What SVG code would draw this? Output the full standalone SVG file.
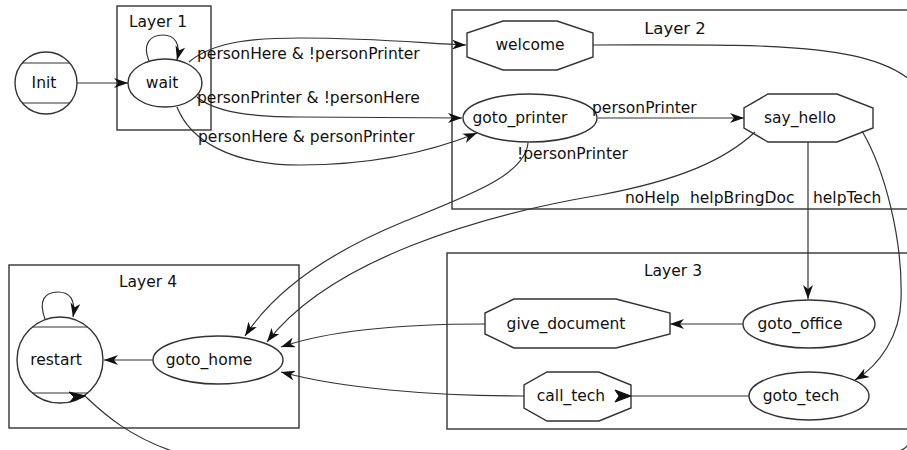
<svg xmlns="http://www.w3.org/2000/svg" width="907" height="450" viewBox="0 0 907 450">
<defs>
<style>
.cl{fill:none;stroke:#333;stroke-width:1.4}
.nd{fill:#fff;stroke:#333;stroke-width:1.4}
.ln{fill:none;stroke:#333;stroke-width:1.2}
.ed{fill:none;stroke:#333;stroke-width:1.2;marker-end:url(#ah)}
.ah{fill:#111;stroke:#111;stroke-width:1}
text{font-family:"DejaVu Sans","Liberation Sans",sans-serif;font-size:15.5px;fill:#111}
.c{text-anchor:middle}
.lay{font-size:15.5px}
</style>
<marker id="ah" viewBox="0 0 14 10" refX="14" refY="5" markerWidth="14" markerHeight="10" markerUnits="userSpaceOnUse" orient="auto">
<path d="M0,0 L14,5 L0,10 L4,5 Z" fill="#111"/>
</marker>
</defs>

<g id="clusters">
<g id="layer1"><rect class="cl" x="117" y="6" width="94" height="124"/><text class="c lay" x="158" y="27">Layer 1</text></g>
<g id="layer2"><rect class="cl" x="452" y="10" width="480" height="199"/><text class="c" x="675" y="34" style="font-size:16.5px">Layer 2</text></g>
<g id="layer3"><rect class="cl" x="447" y="253" width="480" height="176"/><text class="c lay" x="673" y="276">Layer 3</text></g>
<g id="layer4"><rect class="cl" x="9" y="265" width="290" height="163"/><text class="c lay" x="148" y="287">Layer 4</text></g>
</g>

<g id="Init"><circle class="nd" cx="46" cy="83" r="31"/><path class="ln" d="M22,63 L70,63 M22,103 L70,103"/><text class="c" x="44" y="88">Init</text></g>
<g id="wait"><ellipse class="nd" cx="165" cy="83" rx="37" ry="24"/><text class="c" x="162" y="88">wait</text></g>
<g id="welcome"><polygon class="nd" points="503,21 557,21 593,33 593,57 557,70 503,70 467,57 467,33"/><text class="c" x="530" y="50">welcome</text></g>
<g id="goto_printer"><ellipse class="nd" cx="530" cy="118" rx="67" ry="24"/><text class="c" x="520" y="123">goto_printer</text></g>
<g id="say_hello"><polygon class="nd" points="768,94 837,94 873,108 873,128 837,142 768,142 744,128 744,108"/><text class="c" x="800" y="123">say_hello</text></g>
<g id="goto_office"><ellipse class="nd" cx="809" cy="324" rx="66" ry="24"/><text class="c" x="800" y="329">goto_office</text></g>
<g id="give_document"><polygon class="nd" points="514,299 616,299 670,313 670,334 616,348 514,348 485,334 485,313"/><text class="c" x="566" y="329">give_document</text></g>
<g id="goto_tech"><ellipse class="nd" cx="809" cy="396" rx="60" ry="24"/><text class="c" x="801" y="401">goto_tech</text></g>
<g id="call_tech"><polygon class="nd" points="547,372 599,372 631,385 631,408 599,421 547,421 524,408 524,385"/><text class="c" x="571" y="401">call_tech</text></g>
<g id="goto_home"><ellipse class="nd" cx="218" cy="360" rx="65" ry="24"/><text class="c" x="209" y="365">goto_home</text></g>
<g id="restart"><circle class="nd" cx="60" cy="360" r="43"/><path class="ln" d="M32,327 L88,327 M32,393 L88,393"/><text class="c" x="56" y="365">restart</text></g>

<g id="connectors">
<path class="ed" d="M77,83 L128,83"/>
<path class="ed" d="M149,61 C142,44 150,35 163,35 C175,35 181,44 177,60"/>
<path class="ed" d="M189,62 C215,40 260,38 300,38 C380,38 430,44 466,45"/>
<path class="ed" d="M197,97 C215,112 250,117 300,117 L462,118"/>
<path class="ed" d="M177,107 C190,140 230,165 300,165 C380,165 440,148 477,133"/>
<path class="ed" d="M598,118 L744,118"/>
<path class="ed" d="M528,143 C525,175 470,195 403,222 C330,252 275,290 245,336"/>
<path class="ed" d="M755,132 C725,160 680,180 600,195 C480,215 330,260 267,342"/>
<path class="ed" d="M808,142 L808,299"/>
<path class="ed" d="M862,131 C885,170 903,240 901,300 C900,335 880,365 855,380"/>
<path class="ed" d="M743,324 L670,324"/>
<path class="ln" d="M749,396 L631,396"/>
<polygon class="ah" points="631,396 615,390 619,396 615,402"/>
<path class="ed" d="M485,324 C400,324 330,330 281,347"/>
<path class="ed" d="M524,396 C430,396 340,388 281,372"/>
<path class="ed" d="M153,360 L104,360"/>
<path class="ed" d="M45,319 C38,300 45,292 58,292 C70,292 76,300 73,317"/>
<path class="ln" d="M593,45 C760,45 880,40 920,90 C960,200 960,400 905,448 C870,475 300,490 175,452 C130,437 105,415 86,397"/>
<polygon class="ah" points="86,396 69,392 74,397 70,402"/>
<text x="197" y="59">personHere &amp; !personPrinter</text>
<text x="197" y="103">personPrinter &amp; !personHere</text>
<text x="198" y="142">personHere &amp; personPrinter</text>
<text x="592" y="113">personPrinter</text>
<text x="517" y="159">!personPrinter</text>
<text x="625" y="203">noHelp</text>
<text x="690" y="203">helpBringDoc</text>
<text x="813" y="203">helpTech</text>
</g>
</svg>
